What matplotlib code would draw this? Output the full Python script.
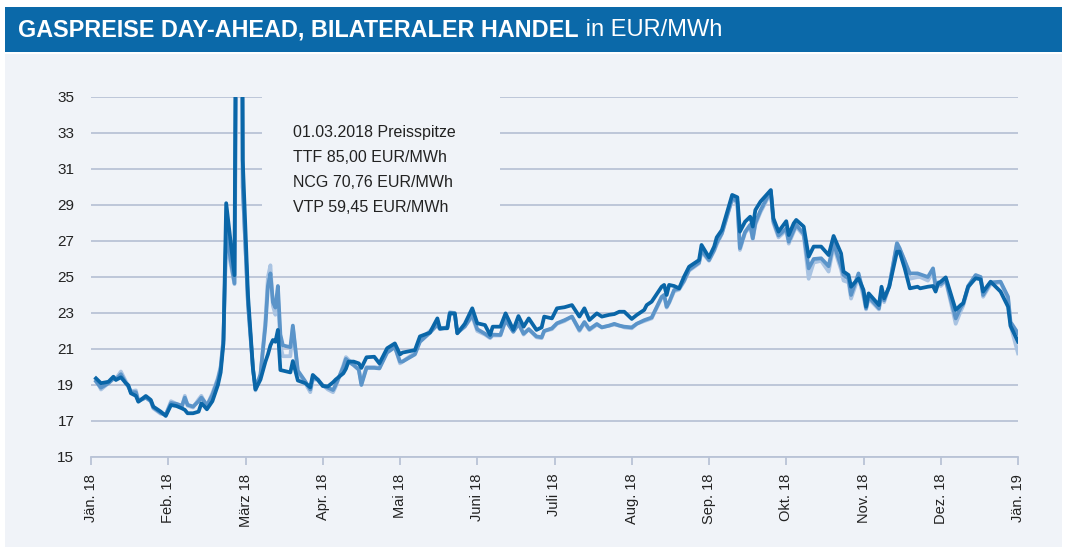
import calendar
import matplotlib
matplotlib.use("Agg")
import matplotlib.pyplot as plt
from matplotlib.patches import Rectangle

plt.rcParams['font.family'] = ['Liberation Sans', 'DejaVu Sans']

# ---------------- data ----------------
dates = [
    "2018-01-03", "2018-01-05", "2018-01-08", "2018-01-10", "2018-01-11", "2018-01-13",
    "2018-01-15", "2018-01-16", "2018-01-17", "2018-01-19", "2018-01-20", "2018-01-23",
    "2018-01-25", "2018-01-26", "2018-01-29", "2018-01-31",
    "2018-02-02", "2018-02-04", "2018-02-06", "2018-02-07", "2018-02-08", "2018-02-10",
    "2018-02-12", "2018-02-13", "2018-02-14", "2018-02-15", "2018-02-17", "2018-02-19",
    "2018-02-20", "2018-02-21", "2018-02-22", "2018-02-25", "2018-02-27", "2018-02-28",
    "2018-03-02", "2018-03-04", "2018-03-05", "2018-03-07", "2018-03-09", "2018-03-10",
    "2018-03-11", "2018-03-12", "2018-03-13", "2018-03-14", "2018-03-15", "2018-03-16",
    "2018-03-19", "2018-03-20", "2018-03-22", "2018-03-25", "2018-03-27", "2018-03-28",
    "2018-03-30",
    "2018-04-01", "2018-04-03", "2018-04-05", "2018-04-06", "2018-04-09", "2018-04-10",
    "2018-04-11", "2018-04-13", "2018-04-15", "2018-04-16", "2018-04-18", "2018-04-21",
    "2018-04-23", "2018-04-26", "2018-04-29",
    "2018-05-01", "2018-05-02", "2018-05-07", "2018-05-09", "2018-05-13", "2018-05-16",
    "2018-05-17", "2018-05-20", "2018-05-21", "2018-05-23", "2018-05-24", "2018-05-27",
    "2018-05-30",
    "2018-06-01", "2018-06-04", "2018-06-06", "2018-06-07", "2018-06-10", "2018-06-12",
    "2018-06-15", "2018-06-17", "2018-06-19", "2018-06-21", "2018-06-24", "2018-06-26",
    "2018-06-27", "2018-06-30",
    "2018-07-02", "2018-07-05", "2018-07-08", "2018-07-11", "2018-07-13", "2018-07-15",
    "2018-07-18", "2018-07-20", "2018-07-23", "2018-07-25", "2018-07-27", "2018-07-29",
    "2018-08-01", "2018-08-03", "2018-08-06", "2018-08-07", "2018-08-09", "2018-08-13",
    "2018-08-14", "2018-08-15", "2018-08-16", "2018-08-18", "2018-08-20", "2018-08-22",
    "2018-08-24", "2018-08-28", "2018-08-29",
    "2018-09-01", "2018-09-03", "2018-09-04", "2018-09-06", "2018-09-10", "2018-09-12",
    "2018-09-13", "2018-09-15", "2018-09-17", "2018-09-18", "2018-09-19", "2018-09-21",
    "2018-09-25", "2018-09-26", "2018-09-28",
    "2018-10-01", "2018-10-02", "2018-10-04", "2018-10-05", "2018-10-08", "2018-10-10",
    "2018-10-12", "2018-10-15", "2018-10-18", "2018-10-20", "2018-10-23", "2018-10-24",
    "2018-10-26", "2018-10-27", "2018-10-30",
    "2018-11-01", "2018-11-02", "2018-11-03", "2018-11-07", "2018-11-08", "2018-11-09",
    "2018-11-11", "2018-11-14", "2018-11-15", "2018-11-17", "2018-11-19", "2018-11-22",
    "2018-11-23", "2018-11-26", "2018-11-28", "2018-11-29", "2018-11-30",
    "2018-12-01", "2018-12-03", "2018-12-07", "2018-12-09", "2018-12-10", "2018-12-12",
    "2018-12-15", "2018-12-17", "2018-12-18", "2018-12-21", "2018-12-25", "2018-12-28",
    "2018-12-29", "2019-01-01",
]

ttf = [
    19.37, 19.10, 19.18, 19.46, 19.28, 19.43, 19.10, 18.98, 18.54, 18.40, 18.07, 18.39,
    18.17, 17.80, 17.52, 17.28,
    17.89, 17.83, 17.70, 17.62, 17.43, 17.43, 17.52, 17.98, 17.83, 17.65, 18.10, 19.00,
    19.70, 21.30, 29.10, 25.10, 85.00, 31.50,
    24.00, 19.90, 18.75, 19.30, 20.30, 20.70, 21.20, 21.50, 21.40, 22.06, 19.83, 19.80,
    19.70, 20.33, 19.25, 19.10, 18.87, 19.56, 19.30,
    18.95, 18.92, 19.15, 19.30, 19.65, 19.90, 20.30, 20.30, 20.20, 19.95, 20.54, 20.57,
    20.20, 21.04, 21.31,
    20.70, 20.80, 20.94, 21.70, 21.91, 22.70, 22.15, 22.15, 22.98, 22.98, 21.87, 22.40,
    23.26,
    22.43, 22.33, 21.78, 22.24, 22.24, 22.98, 22.06, 22.83, 22.24, 22.70, 22.06, 22.20,
    22.80, 22.70,
    23.26, 23.32, 23.44, 22.80, 23.26, 22.61, 22.98, 22.80, 22.90, 22.94, 23.07, 23.07,
    22.67, 22.89, 23.17, 23.44, 23.63, 24.46, 24.56, 24.00, 24.56, 24.50, 24.37, 25.02,
    25.57, 25.94, 26.78,
    26.09, 26.69, 27.20, 27.61, 29.56, 29.43, 27.52, 28.07, 28.35, 27.80, 28.72, 29.19,
    29.83, 28.26, 27.52,
    28.10, 27.33, 27.98, 28.17, 27.80, 26.13, 26.69, 26.69, 26.22, 27.28, 26.31, 25.30,
    25.11, 24.46, 24.93,
    24.28, 23.35, 24.09, 23.44, 24.46, 23.81, 24.46, 26.41, 26.41, 25.48, 24.37, 24.46,
    24.37, 24.46, 24.50, 24.19, 24.65,
    24.74, 24.98, 23.17, 23.44, 23.54, 24.46, 24.93, 24.87, 24.19, 24.74, 24.19, 23.35,
    22.28, 21.41,
]

ncg = [
    19.20, 18.85, 19.10, 19.35, 19.30, 19.60, 19.10, 18.90, 18.60, 18.60, 18.10, 18.30,
    18.10, 17.75, 17.45, 17.35,
    18.00, 17.95, 17.85, 18.30, 17.90, 17.80, 18.10, 18.30, 18.10, 17.85, 18.45, 19.30,
    19.95, 21.50, 27.50, 24.65, 70.76, 30.00,
    23.50, 19.90, 18.80, 19.60, 22.30, 24.50, 25.20, 23.60, 23.30, 24.50, 21.80, 21.20,
    21.10, 22.30, 19.80, 19.20, 18.75, 19.40, 19.30,
    18.95, 18.85, 18.72, 19.00, 20.00, 20.45, 20.30, 20.10, 19.85, 19.00, 19.95, 19.95,
    19.92, 20.80, 21.10,
    20.30, 20.30, 20.70, 21.40, 21.90, 22.35, 22.10, 22.20, 23.00, 22.95, 21.90, 22.25,
    22.90,
    22.10, 21.85, 21.65, 21.80, 21.78, 22.60, 21.95, 22.40, 21.85, 22.10, 21.70, 21.65,
    22.00, 22.15,
    22.43, 22.60, 22.80, 22.06, 22.50, 22.10, 22.39, 22.20, 22.30, 22.40, 22.30, 22.24,
    22.20, 22.40, 22.60, 22.65, 22.75, 23.90, 24.00, 23.35, 23.60, 24.28, 24.35, 24.80,
    25.40, 25.80, 26.50,
    25.94, 26.50, 26.90, 27.43, 29.37, 29.20, 26.60, 27.50, 27.90, 27.15, 28.00, 28.70,
    29.80, 28.10, 27.30,
    27.70, 26.96, 27.60, 27.90, 27.40, 25.48, 26.00, 26.04, 25.60, 26.87, 25.60, 25.11,
    24.90, 24.00, 25.20,
    24.10, 23.26, 23.90, 23.26, 24.20, 23.70, 24.50, 26.87, 26.60, 25.90, 25.20, 25.20,
    25.15, 25.00, 25.48, 24.50, 24.70,
    24.60, 24.85, 22.70, 23.30, 23.50, 24.50, 25.11, 25.00, 24.00, 24.70, 24.74, 23.90,
    22.50, 21.87,
]

vtp = [
    19.30, 18.75, 19.10, 19.40, 19.35, 19.75, 19.20, 18.95, 18.65, 18.70, 18.15, 18.30,
    18.10, 17.70, 17.40, 17.35,
    18.10, 17.95, 17.80, 18.40, 17.85, 17.75, 18.20, 18.40, 18.10, 17.85, 18.55, 19.40,
    20.05, 21.60, 27.00, 24.60, 59.45, 30.00,
    23.50, 19.90, 18.70, 19.50, 22.60, 25.00, 25.65, 23.40, 22.90, 24.00, 21.20, 20.60,
    20.60, 22.20, 19.70, 19.10, 18.60, 19.30, 19.30,
    19.00, 18.75, 18.60, 18.90, 20.10, 20.55, 20.40, 20.15, 19.85, 19.10, 20.00, 20.00,
    19.95, 20.90, 21.15,
    20.20, 20.30, 20.80, 21.50, 22.00, 22.40, 22.15, 22.20, 23.05, 23.00, 21.90, 22.25,
    22.80,
    22.00, 21.80, 21.60, 21.75, 21.75, 22.60, 22.00, 22.45, 21.80, 22.10, 21.65, 21.60,
    22.00, 22.10,
    22.40, 22.55, 22.80, 22.00, 22.45, 22.05, 22.35, 22.20, 22.30, 22.35, 22.30, 22.20,
    22.15, 22.40, 22.55, 22.60, 22.70, 23.85, 24.00, 23.30, 23.55, 24.20, 24.30, 24.75,
    25.35, 25.75, 26.40,
    25.90, 26.45, 26.80, 27.40, 29.30, 29.10, 26.50, 27.45, 27.80, 27.10, 27.90, 28.60,
    29.70, 28.00, 27.20,
    27.60, 26.85, 27.50, 27.80, 27.30, 24.90, 25.80, 25.90, 25.30, 26.70, 25.40, 24.80,
    24.70, 23.80, 25.00,
    23.90, 23.20, 23.80, 23.20, 24.10, 23.60, 24.50, 26.90, 26.60, 25.90, 24.90, 25.00,
    25.00, 24.80, 25.30, 24.40, 24.60,
    24.50, 24.80, 22.40, 23.10, 23.40, 24.40, 25.05, 25.00, 23.90, 24.60, 24.70, 23.80,
    22.30, 20.76,
]

month_labels = ["Jän. 18", "Feb. 18", "März 18", "Apr. 18", "Mai 18", "Juni 18",
                "Juli 18", "Aug. 18", "Sep. 18", "Okt. 18", "Nov. 18", "Dez. 18",
                "Jän. 19"]
y_ticks = [15, 17, 19, 21, 23, 25, 27, 29, 31, 33, 35]

title_bold = "GASPREISE DAY-AHEAD, BILATERALER HANDEL"
title_unit = " in EUR/MWh"
note_lines = ["01.03.2018 Preisspitze", "TTF 85,00 EUR/MWh",
              "NCG 70,76 EUR/MWh", "VTP 59,45 EUR/MWh"]


def month_pos(s):
    y, m, d = map(int, s.split("-"))
    ndays = calendar.monthrange(y, m)[1]
    return (y - 2018) * 12 + (m - 1) + (d - 1) / ndays


xpos = [month_pos(s) for s in dates]

# ---------------- styling ----------------
W, H = 1066, 547
BLUE_BAR = "#0b69a9"
PANEL = "#f0f3f8"
GRID = "#b9c3d6"
C_DARK = "#0a66a8"
C_MED = "#5b94c9"
C_LIGHT = "#a9c3e2"
TXT = "#222222"

fig = plt.figure(figsize=(W / 100, H / 100), dpi=100)
fig.patch.set_facecolor("white")


def fx(px):
    return px / W


def fy(py):
    return 1 - py / H


# panel + title bar
fig.add_artist(Rectangle((fx(5), fy(547)), fx(1062) - fx(5), fy(54) - fy(547),
                         transform=fig.transFigure, facecolor=PANEL, edgecolor="none", zorder=0))
fig.add_artist(Rectangle((fx(5), fy(52)), fx(1062) - fx(5), fy(7) - fy(52),
                         transform=fig.transFigure, facecolor=BLUE_BAR, edgecolor="none", zorder=0))

# axes
ax = fig.add_axes([fx(91), fy(457), fx(1018) - fx(91), fy(97) - fy(457)])
ax.set_facecolor("none")
ax.set_xlim(0, 12)
ax.set_ylim(15, 35)

t1 = fig.text(fx(18), fy(30), title_bold, color="white", fontsize=16.8, fontweight="bold",
              va="center", ha="left")
ax.annotate(title_unit, xy=(1, 0.5), xycoords=t1, va="center", ha="left",
            color="white", fontsize=17, annotation_clip=False)

ax.plot(xpos, vtp, color=C_LIGHT, lw=2.7, solid_joinstyle="round", zorder=3)
ax.plot(xpos, ncg, color=C_MED, lw=2.7, solid_joinstyle="round", zorder=4)
ax.plot(xpos, ttf, color=C_DARK, lw=2.7, solid_joinstyle="round", zorder=5)

ax.set_yticks(y_ticks)
ax.set_yticklabels([str(v) for v in y_ticks])
ax.set_xticks(range(13))
ax.set_xticklabels(month_labels, rotation=90)
ax.grid(axis="y", color=GRID, lw=1.3, zorder=1)
ax.grid(axis="x", visible=False)
for s in ["top", "right", "left"]:
    ax.spines[s].set_visible(False)
ax.spines["bottom"].set_color(GRID)
ax.spines["bottom"].set_linewidth(1.3)
ax.spines["bottom"].set_zorder(2)
ax.tick_params(axis="y", length=0, pad=12, labelsize=11, labelcolor=TXT)
ax.tick_params(axis="x", length=6, width=1.3, color=GRID, pad=6, labelsize=10.5,
               labelcolor=TXT)
ax.set_axisbelow(True)

# annotation box covering grid lines
ax.add_artist(Rectangle((fx(262), fy(215)), fx(500) - fx(262), fy(90) - fy(215),
                        transform=fig.transFigure, facecolor=PANEL, edgecolor="none",
                        zorder=2))
for i, line in enumerate(note_lines):
    fig.text(fx(293), fy(133 + i * 24.7), line, fontsize=11.5, color=TXT,
             va="center", ha="left", zorder=6)

fig.savefig("out.png", dpi=100, facecolor=fig.get_facecolor())
